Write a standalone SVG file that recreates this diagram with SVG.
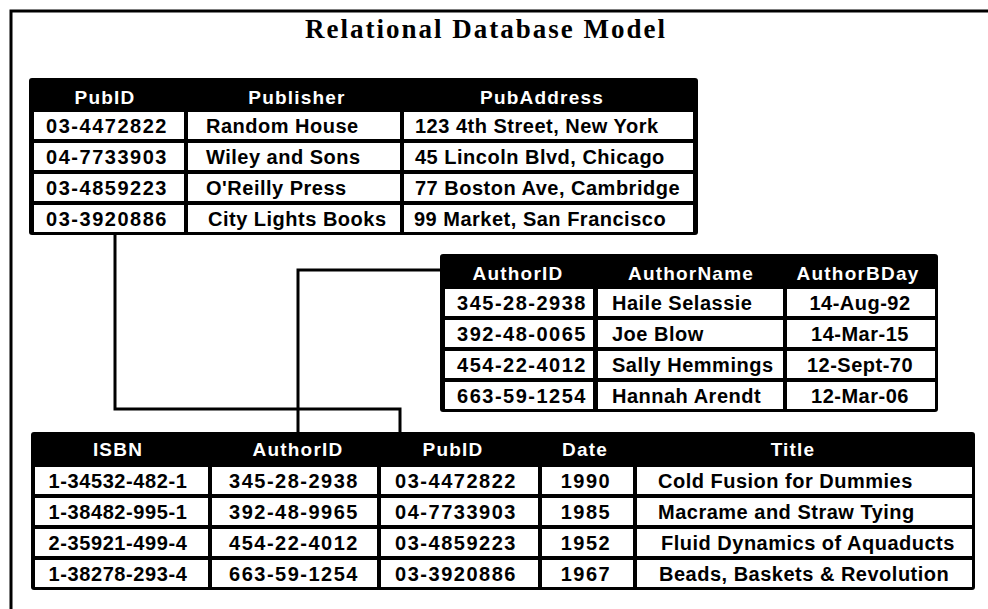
<svg xmlns="http://www.w3.org/2000/svg" width="988" height="609" viewBox="0 0 988 609">
  <style>
    .frame { fill: none; stroke: #000; stroke-width: 3; }
    .tbl { fill: #000; }
    .cell { fill: #fff; }
    .title { font-family: "Liberation Serif", "Times New Roman", serif; font-weight: bold; font-size: 27px; letter-spacing: 2px; fill: #000; }
    .hd { font-family: "Liberation Sans", Arial, sans-serif; font-weight: bold; font-size: 19px; letter-spacing: 1.2px; fill: #fff; text-anchor: middle; }
    .tx { font-family: "Liberation Sans", Arial, sans-serif; font-weight: bold; font-size: 20px; letter-spacing: 0.5px; fill: #000; }
    .num { letter-spacing: 1.5px; text-anchor: middle; }
    .isbn { letter-spacing: 0.6px; }
    .mid { text-anchor: middle; }
    .link { fill: none; stroke: #000; stroke-width: 3; stroke-linejoin: miter; }
  </style>

  <rect width="988" height="609" fill="#fff"/>

  <!-- page frame: top and left rules only -->
  <polyline class="frame" points="11,609 11,11 988,11"/>

  <text class="title" x="486" y="38" text-anchor="middle">Relational Database Model</text>

  <!-- relationship lines -->
  <g id="connectors">
    <path class="link" d="M115,234 V409 H400 V432"/>
    <path class="link" d="M440,270 H298 V432"/>
  </g>

  <!-- Publishers table -->
  <g id="publishers">
    <rect class="tbl" x="29" y="78" width="669" height="157" rx="3"/>
    <text class="hd" x="105" y="104">PubID</text>
    <text class="hd" x="297" y="104">Publisher</text>
    <text class="hd" x="542" y="104">PubAddress</text>
    <g class="cells">
      <rect class="cell" x="34" y="112" width="150" height="27"/>
      <rect class="cell" x="188" y="112" width="212" height="27"/>
      <rect class="cell" x="404" y="112" width="289" height="27"/>
      <rect class="cell" x="34" y="143" width="150" height="27"/>
      <rect class="cell" x="188" y="143" width="212" height="27"/>
      <rect class="cell" x="404" y="143" width="289" height="27"/>
      <rect class="cell" x="34" y="174" width="150" height="27"/>
      <rect class="cell" x="188" y="174" width="212" height="27"/>
      <rect class="cell" x="404" y="174" width="289" height="27"/>
      <rect class="cell" x="34" y="205" width="150" height="27"/>
      <rect class="cell" x="188" y="205" width="212" height="27"/>
      <rect class="cell" x="404" y="205" width="289" height="27"/>
    </g>
    <text class="tx num" x="107" y="133">03-4472822</text>
    <text class="tx num" x="107" y="164">04-7733903</text>
    <text class="tx num" x="107" y="195">03-4859223</text>
    <text class="tx num" x="107" y="226">03-3920886</text>
    <text class="tx" x="206" y="133">Random House</text>
    <text class="tx" x="206" y="164">Wiley and Sons</text>
    <text class="tx" x="206" y="195">O'Reilly Press</text>
    <text class="tx" x="208" y="226">City Lights Books</text>
    <text class="tx" x="415" y="133">123 4th Street, New York</text>
    <text class="tx" x="415" y="164">45 Lincoln Blvd, Chicago</text>
    <text class="tx" x="415" y="195">77 Boston Ave, Cambridge</text>
    <text class="tx" x="414" y="226">99 Market, San Francisco</text>
  </g>

  <!-- Authors table -->
  <g id="authors">
    <rect class="tbl" x="440" y="254" width="498" height="158" rx="3"/>
    <text class="hd" x="518" y="280">AuthorID</text>
    <text class="hd" x="691" y="280">AuthorName</text>
    <text class="hd" x="858" y="280">AuthorBDay</text>
    <g class="cells">
      <rect class="cell" x="445" y="289" width="148" height="27"/>
      <rect class="cell" x="598" y="289" width="185" height="27"/>
      <rect class="cell" x="787" y="289" width="148" height="27"/>
      <rect class="cell" x="445" y="320" width="148" height="27"/>
      <rect class="cell" x="598" y="320" width="185" height="27"/>
      <rect class="cell" x="787" y="320" width="148" height="27"/>
      <rect class="cell" x="445" y="351" width="148" height="27"/>
      <rect class="cell" x="598" y="351" width="185" height="27"/>
      <rect class="cell" x="787" y="351" width="148" height="27"/>
      <rect class="cell" x="445" y="382" width="148" height="27"/>
      <rect class="cell" x="598" y="382" width="185" height="27"/>
      <rect class="cell" x="787" y="382" width="148" height="27"/>
    </g>
    <text class="tx num" x="522" y="310">345-28-2938</text>
    <text class="tx num" x="522" y="341">392-48-0065</text>
    <text class="tx num" x="522" y="372">454-22-4012</text>
    <text class="tx num" x="522" y="403">663-59-1254</text>
    <text class="tx" x="612" y="310">Haile Selassie</text>
    <text class="tx" x="612" y="341">Joe Blow</text>
    <text class="tx" x="612" y="372">Sally Hemmings</text>
    <text class="tx" x="612" y="403">Hannah Arendt</text>
    <text class="tx mid" x="860" y="310">14-Aug-92</text>
    <text class="tx mid" x="860" y="341">14-Mar-15</text>
    <text class="tx mid" x="860" y="372">12-Sept-70</text>
    <text class="tx mid" x="860" y="403">12-Mar-06</text>
  </g>

  <!-- Books table -->
  <g id="books">
    <rect class="tbl" x="31" y="432" width="944" height="158" rx="3"/>
    <text class="hd" x="118" y="456">ISBN</text>
    <text class="hd" x="298" y="456">AuthorID</text>
    <text class="hd" x="453" y="456">PubID</text>
    <text class="hd" x="585" y="456">Date</text>
    <text class="hd" x="793" y="456">Title</text>
    <g class="cells">
      <rect class="cell" x="35" y="467" width="173" height="27"/>
      <rect class="cell" x="212" y="467" width="165" height="27"/>
      <rect class="cell" x="381" y="467" width="157" height="27"/>
      <rect class="cell" x="542" y="467" width="91" height="27"/>
      <rect class="cell" x="637" y="467" width="335" height="27"/>
      <rect class="cell" x="35" y="498" width="173" height="27"/>
      <rect class="cell" x="212" y="498" width="165" height="27"/>
      <rect class="cell" x="381" y="498" width="157" height="27"/>
      <rect class="cell" x="542" y="498" width="91" height="27"/>
      <rect class="cell" x="637" y="498" width="335" height="27"/>
      <rect class="cell" x="35" y="529" width="173" height="27"/>
      <rect class="cell" x="212" y="529" width="165" height="27"/>
      <rect class="cell" x="381" y="529" width="157" height="27"/>
      <rect class="cell" x="542" y="529" width="91" height="27"/>
      <rect class="cell" x="637" y="529" width="335" height="27"/>
      <rect class="cell" x="35" y="560" width="173" height="27"/>
      <rect class="cell" x="212" y="560" width="165" height="27"/>
      <rect class="cell" x="381" y="560" width="157" height="27"/>
      <rect class="cell" x="542" y="560" width="91" height="27"/>
      <rect class="cell" x="637" y="560" width="335" height="27"/>
    </g>
    <text class="tx num isbn" x="118" y="488">1-34532-482-1</text>
    <text class="tx num isbn" x="118" y="519">1-38482-995-1</text>
    <text class="tx num isbn" x="118" y="550">2-35921-499-4</text>
    <text class="tx num isbn" x="118" y="581">1-38278-293-4</text>
    <text class="tx num" x="294" y="488">345-28-2938</text>
    <text class="tx num" x="294" y="519">392-48-9965</text>
    <text class="tx num" x="294" y="550">454-22-4012</text>
    <text class="tx num" x="294" y="581">663-59-1254</text>
    <text class="tx num" x="456" y="488">03-4472822</text>
    <text class="tx num" x="456" y="519">04-7733903</text>
    <text class="tx num" x="456" y="550">03-4859223</text>
    <text class="tx num" x="456" y="581">03-3920886</text>
    <text class="tx num" x="586" y="488">1990</text>
    <text class="tx num" x="586" y="519">1985</text>
    <text class="tx num" x="586" y="550">1952</text>
    <text class="tx num" x="586" y="581">1967</text>
    <text class="tx" x="658" y="488">Cold Fusion for Dummies</text>
    <text class="tx" x="658" y="519">Macrame and Straw Tying</text>
    <text class="tx" x="661" y="550">Fluid Dynamics of Aquaducts</text>
    <text class="tx" x="659" y="581">Beads, Baskets &amp; Revolution</text>
  </g>
</svg>
